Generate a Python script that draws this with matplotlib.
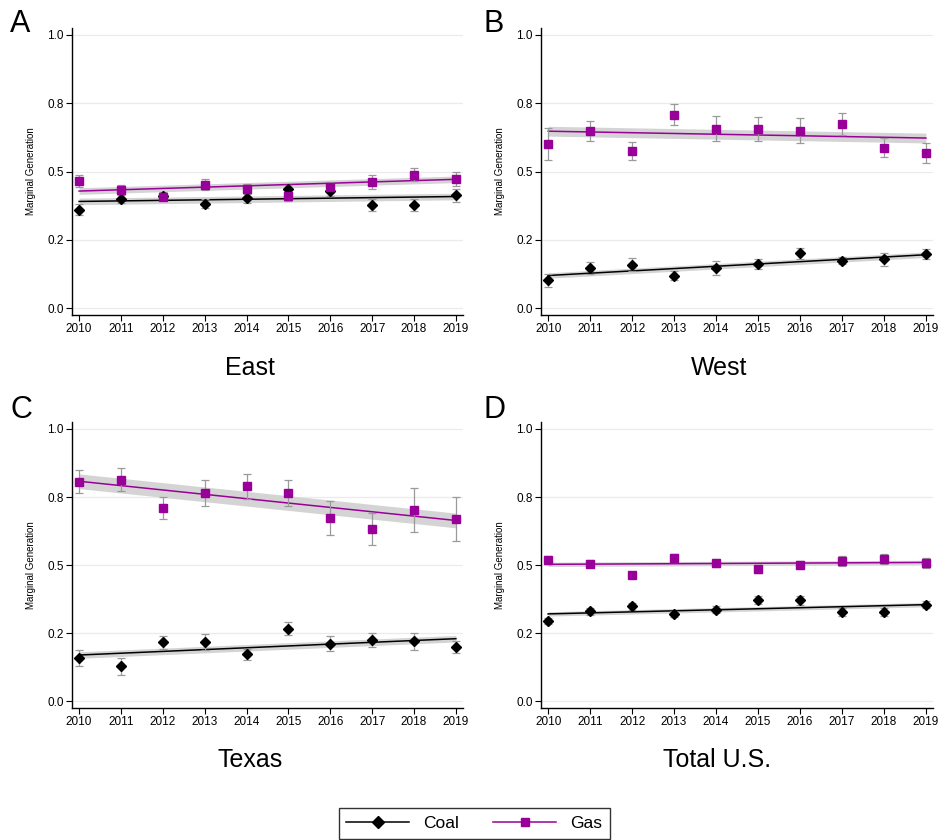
import matplotlib
matplotlib.use("Agg")
import matplotlib.pyplot as plt
from matplotlib.lines import Line2D

plt.rcParams['font.family'] = ['Liberation Sans', 'DejaVu Sans']

years = [2010, 2011, 2012, 2013, 2014, 2015, 2016, 2017, 2018, 2019]
panel_letters = ["A", "B", "C", "D"]
regions = ["East", "West", "Texas", "Total U.S."]
y_ticks = [0.0, 0.25, 0.5, 0.75, 1.0]
y_tick_labels = ["0.0", "0.2", "0.5", "0.8", "1.0"]

# point estimates and half-width of the error bars, per region
coal = {
    "East": [0.361, 0.401, 0.412, 0.383, 0.405, 0.438, 0.430, 0.379, 0.378, 0.413],
    "West": [0.102, 0.148, 0.159, 0.120, 0.148, 0.161, 0.201, 0.174, 0.179, 0.198],
    "Texas": [0.159, 0.128, 0.216, 0.219, 0.172, 0.267, 0.212, 0.225, 0.220, 0.199],
    "Total U.S.": [0.295, 0.330, 0.349, 0.320, 0.337, 0.372, 0.371, 0.327, 0.327, 0.355],
}
coal_err = {
    "East": [0.020, 0.017, 0.014, 0.016, 0.018, 0.014, 0.020, 0.022, 0.022, 0.023],
    "West": [0.024, 0.022, 0.024, 0.018, 0.026, 0.018, 0.021, 0.013, 0.025, 0.018],
    "Texas": [0.030, 0.032, 0.024, 0.029, 0.020, 0.023, 0.029, 0.025, 0.032, 0.023],
    "Total U.S.": [0.012, 0.014, 0.013, 0.012, 0.014, 0.015, 0.016, 0.015, 0.014, 0.014],
}
gas = {
    "East": [0.466, 0.433, 0.409, 0.452, 0.437, 0.412, 0.443, 0.462, 0.488, 0.473],
    "West": [0.602, 0.649, 0.576, 0.709, 0.657, 0.656, 0.650, 0.674, 0.588, 0.568],
    "Texas": [0.806, 0.813, 0.709, 0.766, 0.790, 0.764, 0.674, 0.632, 0.702, 0.670],
    "Total U.S.": [0.520, 0.505, 0.464, 0.526, 0.508, 0.486, 0.501, 0.515, 0.523, 0.508],
}
gas_err = {
    "East": [0.021, 0.017, 0.014, 0.020, 0.018, 0.020, 0.020, 0.027, 0.024, 0.025],
    "West": [0.058, 0.038, 0.032, 0.040, 0.046, 0.043, 0.045, 0.039, 0.035, 0.035],
    "Texas": [0.042, 0.042, 0.040, 0.048, 0.046, 0.048, 0.062, 0.058, 0.081, 0.081],
    "Total U.S.": [0.015, 0.013, 0.010, 0.014, 0.014, 0.015, 0.015, 0.017, 0.017, 0.017],
}

# linear trend: value in 2010, value in 2019, half-width of the shaded band
coal_trend = {
    "East": [0.391, 0.409, 0.012],
    "West": [0.120, 0.196, 0.010],
    "Texas": [0.170, 0.230, 0.012],
    "Total U.S.": [0.321, 0.355, 0.008],
}
gas_trend = {
    "East": [0.429, 0.472, 0.012],
    "West": [0.648, 0.623, 0.018],
    "Texas": [0.808, 0.664, 0.027],
    "Total U.S.": [0.503, 0.510, 0.008],
}

COAL_COLOR = "black"
GAS_COLOR = "#990099"
ERR_COLOR = "#9a9a9a"
BAND_COLOR = "#d4d4d4"

W, H = 939, 840
fig = plt.figure(figsize=(W / 100, H / 100), dpi=100)

# pixel boxes of each plot area: left, top, right, bottom
boxes = [(72, 28, 463, 315), (541, 28, 933, 315),
         (72, 422, 463, 708), (541, 422, 933, 708)]
title_pos = [(250, 368), (719, 368), (250, 760), (717, 760)]
letter_pos = [(10, 24), (484, 24), (10, 410), (484, 410)]


def draw_series(ax, values, errors, trend, color, marker, msize):
    x0, x1 = years[0], years[-1]
    lo = [trend[0] - trend[2], trend[1] - trend[2]]
    hi = [trend[0] + trend[2], trend[1] + trend[2]]
    ax.fill_between([x0, x1], lo, hi, color=BAND_COLOR, lw=0, zorder=2)
    ax.plot([x0, x1], [trend[0], trend[1]], color=color, lw=1.1, zorder=3)
    ax.errorbar(years, values, yerr=errors, fmt="none", ecolor=ERR_COLOR,
                elinewidth=0.9, capsize=3, capthick=0.9, zorder=4)
    ax.plot(years, values, linestyle="none", marker=marker, color=color,
            markersize=msize, zorder=5)


for i, region in enumerate(regions):
    l, t, r, b = boxes[i]
    ax = fig.add_axes([l / W, 1 - b / H, (r - l) / W, (b - t) / H])

    draw_series(ax, coal[region], coal_err[region], coal_trend[region],
                COAL_COLOR, "D", 5.5)
    draw_series(ax, gas[region], gas_err[region], gas_trend[region],
                GAS_COLOR, "s", 5.2)

    ax.set_xlim(2009.83, 2019.17)
    ax.set_ylim(-0.0245, 1.0256)
    ax.set_xticks(years)
    ax.set_xticklabels([str(y) for y in years], fontsize=8.5)
    ax.set_yticks(y_ticks)
    ax.set_yticklabels(y_tick_labels, fontsize=8.5)
    ax.yaxis.grid(True, color="#ebebeb", lw=0.9)
    ax.set_axisbelow(True)
    ax.tick_params(length=4, width=0.8, pad=2)
    for side in ["top", "right"]:
        ax.spines[side].set_visible(False)
    for side in ["left", "bottom"]:
        ax.spines[side].set_linewidth(1.0)
    ax.set_ylabel("Marginal Generation", fontsize=7, labelpad=8)

    tx, ty = title_pos[i]
    fig.text(tx / W, 1 - ty / H, region, fontsize=18, ha="center", va="center")
    lx, ly = letter_pos[i]
    fig.text(lx / W, 1 - ly / H, panel_letters[i], fontsize=22,
             ha="left", va="center")

handles = [
    Line2D([], [], color=COAL_COLOR, marker="D", markersize=6, lw=1.1),
    Line2D([], [], color=GAS_COLOR, marker="s", markersize=6, lw=1.1),
]
leg = fig.legend(handles, ["Coal", "Gas"], loc="upper center",
                 bbox_to_anchor=(474 / W, 1 - 808 / H), ncol=2, fontsize=12.5,
                 handlelength=3.6, columnspacing=2.0, frameon=True,
                 fancybox=False, borderpad=0.45, borderaxespad=0)
leg.get_frame().set_edgecolor("black")
leg.get_frame().set_linewidth(1.0)

fig.savefig("out.png", dpi=100)
